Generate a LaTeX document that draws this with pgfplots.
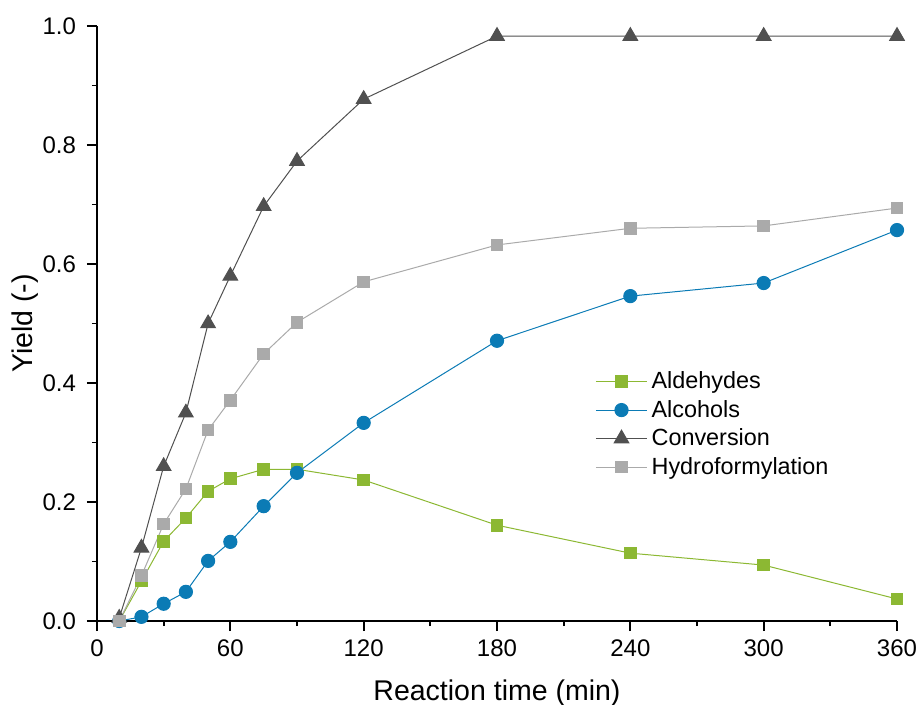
\documentclass[border=0pt]{standalone}
\usepackage{fontspec}
\setmainfont{Liberation Sans}
\usepackage{pgfplots}
\pgfplotsset{compat=1.18}
\usetikzlibrary{calc}
\definecolor{cgreen}{HTML}{8CB833}
\definecolor{cblue}{HTML}{0B7BB5}
\definecolor{cdark}{HTML}{505050}
\definecolor{clight}{HTML}{AAAAAA}
\begin{document}
\begin{tikzpicture}
\begin{axis}[
  scale only axis, width=400pt, height=297.5pt,
  xmin=0, xmax=360, ymin=0, ymax=1.0,
  axis lines*=left,
  axis line style={line width=0.9pt},
  xtick={0,60,...,360}, ytick={0,0.2,...,1.0},
  minor x tick num=1, minor y tick num=1,
  tick align=outside,
  major tick length=5pt, minor tick length=2.5pt,
  every tick/.style={black, line width=0.9pt},
  tick label style={font=\fontsize{12}{14}\selectfont},
  /pgf/number format/assume math mode=true,
  y tick label style={xshift=-2pt, /pgf/number format/.cd, fixed, fixed zerofill, precision=1},
  x tick label style={yshift=-1pt},
  xlabel={Reaction time (min)}, ylabel={Yield (-)},
  label style={font=\fontsize{14.25}{16}\selectfont},
  xlabel style={at={(axis description cs:0.5,-0.1328)}, anchor=base},
  ylabel style={at={(axis description cs:-0.08,0.5)}, anchor=base},
  legend style={draw=none, fill=none, at={(0.62,0.43)}, anchor=north west,
    font=\fontsize{11.7}{13}\selectfont, row sep=0.3pt, inner sep=1pt},
  legend cell align=left,
  legend image code/.code={\draw[mark repeat=2,mark phase=2] plot coordinates {(0cm,0cm) (0.45cm,0cm) (0.9cm,0cm)};},
  clip=false,
]
\addplot[color=cgreen, line width=0.5pt, mark=square*, mark size=2.9pt, mark options={solid, fill=cgreen, draw=cgreen}] coordinates {
(10,0.0) (20,0.067) (30,0.134) (40,0.173) (50,0.218) (60,0.239) (75,0.255) (90,0.255) (120,0.237) (180,0.161) (240,0.114) (300,0.094) (360,0.037)};
\addlegendentry{Aldehydes}
\addplot[color=cblue, line width=0.5pt, mark=*, mark size=3.3pt, mark options={solid, fill=cblue, draw=cblue}] coordinates {
(10,0.0) (20,0.007) (30,0.029) (40,0.049) (50,0.101) (60,0.133) (75,0.193) (90,0.249) (120,0.333) (180,0.471) (240,0.546) (300,0.568) (360,0.657)};
\addlegendentry{Alcohols}
\addplot[color=cdark, line width=0.5pt, mark=triangle*, mark size=4.2pt, mark options={solid, fill=cdark, draw=cdark}] coordinates {
(10,0.005) (20,0.123) (30,0.260) (40,0.350) (50,0.500) (60,0.580) (75,0.697) (90,0.773) (120,0.877) (180,0.983) (240,0.983) (300,0.983) (360,0.983)};
\addlegendentry{Conversion}
\addplot[color=clight, line width=0.5pt, mark=square*, mark size=2.9pt, mark options={solid, fill=clight, draw=clight}] coordinates {
(10,0.0) (20,0.076) (30,0.163) (40,0.222) (50,0.321) (60,0.371) (75,0.449) (90,0.502) (120,0.570) (180,0.632) (240,0.660) (300,0.664) (360,0.694)};
\addlegendentry{Hydroformylation}
\coordinate (SW) at (rel axis cs:0,0);
\coordinate (NE) at (rel axis cs:1,1);
\end{axis}
\pgfresetboundingbox
\path[use as bounding box] ($(SW)+(-48.5pt,-41.5pt)$) rectangle ($(NE)+(10pt,13pt)$);
\end{tikzpicture}
\end{document}
